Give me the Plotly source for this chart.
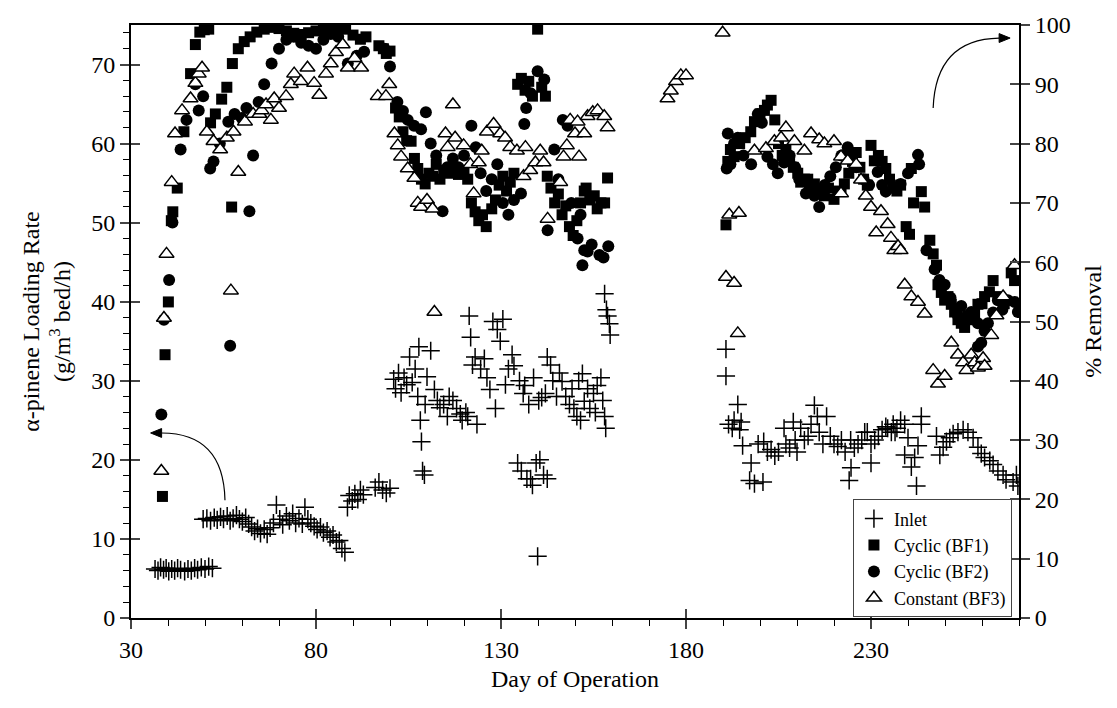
import plotly.graph_objects as go

# ---------------- data ----------------
inlet_day = [36.5,37.3,38.0,38.8,39.5,40.2,41.0,41.8,42.6,43.4,44.5,45.4,46.3,47.2,48.0,49.0,50.0,51.0,52.0,
    49.5,50.5,51.5,52.5,53.3,54.2,55.0,56.0,56.8,57.6,58.5,59.3,60.1,61.0,61.8,62.6,63.4,64.2,65.0,66.0,66.8,67.6,
    68.5,69.3,70.2,71.0,72.0,72.8,73.7,74.5,75.4,76.3,77.0,77.8,78.6,79.5,80.3,81.2,82.0,83.0,83.8,84.6,85.5,86.3,
    87.0,87.8,88.5,89.0,89.8,90.5,91.3,92.0,92.8,96.0,97.0,98.0,99.0,100.0,
    101.0,101.5,102.3,103.0,103.8,104.5,105.3,106.0,106.8,107.5,107.8,108.2,108.5,108.8,109.3,109.5,110.0,111.0,
    112.0,112.8,113.5,114.5,115.5,116.0,117.0,118.0,119.0,119.5,120.5,121.0,121.4,121.8,122.3,123.0,123.5,124.5,
    125.5,126.2,127.0,127.8,128.5,129.0,129.8,130.5,131.2,132.0,133.0,133.5,134.5,135.0,135.5,136.0,136.4,137.0,
    137.5,138.0,138.5,138.8,139.5,139.9,140.2,140.5,141.0,141.5,142.0,142.5,142.5,143.4,144.0,145.0,145.8,146.5,
    147.5,148.5,149.2,149.7,150.5,151.0,151.5,152.0,152.5,153.4,154.0,155.0,155.5,156.0,157.0,157.5,158.0,158.3,
    158.0,158.5,158.8,159.3,159.5,
    190.8,190.8,191.5,192.5,193.0,194.0,194.5,194.9,195.3,197.2,197.6,198.5,199.5,200.8,201.0,202.0,203.0,204.0,
    205.0,206.5,207.0,208.0,209.0,209.5,210.0,211.0,212.0,213.0,213.8,214.7,215.5,216.0,217.0,218.0,219.0,220.0,
    221.0,222.0,223.0,224.1,224.6,224.5,225.5,226.5,227.5,228.3,229.0,230.0,230.0,231.0,232.0,233.0,234.0,234.5,
    235.5,236.0,236.5,237.0,238.0,239.1,239.1,240.0,240.9,241.8,242.3,242.7,243.6,243.6,247.7,248.6,249.5,250.4,
    251.3,252.2,253.5,254.9,256.2,257.6,258.9,259.8,260.7,262.1,263.0,264.3,265.7,266.5,268.4,269.3,269.7]
inlet_val = [6.2,6.0,6.4,6.1,6.3,5.9,6.2,6.0,6.3,6.1,5.9,6.2,6.0,6.3,6.1,6.4,6.2,6.5,6.3,
    12.5,12.6,12.3,12.7,12.4,12.8,12.5,12.9,12.3,12.6,13.0,12.5,12.2,12.7,11.9,11.5,11.0,11.3,10.7,11.2,10.6,11.4,
    12.0,14.3,12.5,11.8,12.9,12.3,13.2,12.0,12.6,11.9,14.0,12.5,12.0,11.6,11.2,11.5,10.8,11.0,10.2,10.5,9.6,9.8,
    8.8,8.3,14.0,15.5,14.8,15.7,15.0,16.2,15.6,16.5,17.2,16.2,15.8,16.4,
    30.2,29.0,31.0,28.5,30.4,29.5,33.0,29.8,31.5,28.0,34.3,25.0,22.3,18.6,18.1,27.0,30.5,33.8,
    28.9,27.5,26.6,27.0,25.5,28.0,27.5,26.5,25.8,25.0,26.0,25.5,38.2,35.5,32.0,33.0,24.5,31.5,
    32.8,30.4,28.9,37.5,26.5,36.5,35.0,37.8,29.5,31.5,33.3,31.9,19.6,30.0,18.6,28.4,29.4,17.6,
    27.0,17.6,16.8,30.4,19.6,7.8,27.5,20.0,27.9,18.1,28.4,33.0,17.6,32.0,30.0,28.0,31.0,29.9,
    28.0,27.0,29.0,26.5,25.5,30.0,25.0,30.9,27.4,29.0,26.5,28.4,26.0,29.4,30.4,27.5,25.5,24.0,
    41.0,39.0,38.2,37.2,35.8,
    34.0,30.6,24.5,24.0,25.0,27.0,23.8,24.8,21.8,17.4,19.6,17.0,22.0,17.2,22.3,21.0,21.3,20.5,
    21.0,24.0,22.0,21.5,24.8,22.5,21.0,24.0,22.5,23.0,24.5,26.9,25.5,23.5,22.0,25.5,23.0,22.0,
    21.7,22.5,21.0,17.4,19.0,22.5,21.5,22.0,22.5,23.5,23.5,22.0,19.6,22.5,23.0,23.8,24.2,24.0,
    23.5,24.5,23.5,24.0,25.0,24.5,20.6,22.8,19.1,20.3,16.7,21.8,25.5,24.5,23.0,20.6,21.6,22.3,
    22.8,23.3,23.5,23.8,23.5,22.8,21.6,20.8,20.3,19.9,19.4,18.6,18.1,17.5,17.2,18.1,16.7]

bf1_day = [38.5,39.2,40.1,40.9,41.3,42.5,44.3,46.1,47.4,48.6,49.8,51.0,51.5,52.8,54.5,55.9,57.2,57.4,59.0,60.6,
    62.2,64.0,66.0,68.0,70.0,72.0,74.0,76.0,78.0,80.0,82.0,84.0,86.0,88.0,90.0,92.0,93.5,97.0,98.2,99.0,100.0,
    101.5,102.5,103.5,104.5,105.7,106.6,107.5,108.5,109.5,110.5,111.5,112.5,113.5,114.5,115.6,117.0,118.5,120.0,
    121.0,122.0,123.0,124.0,125.0,126.0,127.5,128.5,129.5,130.5,131.5,132.5,133.5,134.5,135.5,136.5,137.5,138.5,
    139.9,141.0,142.0,142.5,143.5,144.5,145.5,146.5,147.5,148.5,149.5,150.5,151.5,152.5,153.0,154.0,155.2,156.0,
    157.0,158.0,158.8,
    190.8,191.3,192.0,193.0,194.5,196.0,197.5,198.5,200.0,201.2,202.0,203.0,204.0,205.0,206.0,207.0,208.0,209.0,
    210.2,211.0,212.0,212.9,214.0,214.7,216.0,217.4,218.5,220.0,221.0,221.9,222.8,224.0,225.0,226.0,227.0,228.0,
    229.0,230.0,230.9,232.0,233.0,234.0,235.0,236.0,237.0,238.0,239.5,240.4,240.9,241.5,243.6,244.5,245.9,246.8,
    247.7,248.1,249.0,249.9,250.8,251.7,252.6,253.5,254.4,255.3,256.2,257.1,258.0,258.9,260.0,260.7,262.0,263.0,
    264.3,266.0,267.9,268.8]
bf1_rem = [20.5,44.4,53.3,67.0,68.5,72.5,82.0,91.8,96.7,98.8,99.2,99.3,83.5,85.0,87.5,89.5,69.3,93.5,96.0,97.2,
    98.0,98.8,99.3,99.6,99.4,99.0,98.6,98.4,98.7,99.0,99.2,99.4,99.6,99.3,98.3,97.6,98.0,96.5,96.0,95.2,95.6,
    86.0,84.5,82.0,80.5,80.4,77.5,75.8,74.0,73.2,75.0,74.5,76.5,74.0,75.5,75.0,76.0,74.8,75.5,
    74.0,70.0,68.5,67.0,68.0,66.0,69.0,70.5,73.0,74.5,72.0,73.5,75.0,90.0,91.0,89.0,90.5,88.0,
    99.3,89.5,88.0,74.5,72.5,70.0,71.5,68.0,69.5,66.0,64.5,67.0,70.0,72.0,72.5,70.5,71.2,69.0,
    70.0,70.0,74.2,
    66.3,77.0,79.0,77.8,80.0,81.0,82.0,83.7,85.0,85.6,86.5,87.3,84.0,80.0,78.0,79.0,77.5,76.0,
    75.0,73.5,74.0,74.0,72.5,73.2,72.0,71.2,72.5,70.6,72.0,71.9,73.2,75.0,77.0,78.5,76.0,74.0,
    73.0,79.7,77.1,78.0,77.0,75.8,74.0,72.5,72.0,73.0,66.0,64.7,75.8,70.0,71.9,69.3,63.7,61.4,
    59.5,56.2,54.9,53.6,54.2,52.9,51.6,50.3,49.7,49.0,51.0,50.3,51.5,52.9,53.0,54.2,55.0,56.9,
    54.2,53.0,58.2,56.9]

bf2_day = [38.2,38.9,40.3,41.2,43.4,45.0,47.4,48.3,49.5,51.4,52.3,54.0,56.3,56.8,58.0,59.9,61.2,62.0,63.0,64.5,
    66.0,68.0,70.0,72.0,74.0,76.0,78.0,80.0,82.0,84.0,86.0,88.6,91.0,93.0,98.5,100.0,102.0,103.5,104.8,106.5,
    108.4,109.7,111.0,112.5,114.2,115.5,117.0,118.5,120.0,122.0,123.2,124.5,126.0,127.5,129.0,130.5,132.0,133.5,
    135.4,136.3,136.8,138.0,139.9,141.7,142.6,144.4,145.5,146.7,148.0,149.0,150.7,151.5,152.0,152.5,153.4,154.5,
    156.6,157.7,159.0,
    191.0,191.3,192.0,193.0,194.0,195.5,197.6,199.4,200.5,202.0,203.5,204.8,206.5,208.0,209.5,210.6,212.4,213.5,
    214.7,216.0,217.5,219.0,220.5,222.0,223.7,224.1,226.0,228.0,229.5,231.8,233.0,234.0,236.3,238.0,240.0,242.7,
    243.0,245.0,247.2,248.5,249.9,251.5,253.5,254.4,255.5,257.1,258.9,258.9,259.8,260.7,261.6,263.0,264.3,265.5,
    267.0,268.8,269.7]
bf2_rem = [34.3,50.3,57.0,66.7,79.0,84.0,90.0,85.6,88.0,75.8,77.0,80.0,83.7,45.9,85.0,84.3,86.0,68.6,78.0,87.0,
    90.0,93.5,96.0,97.5,98.0,97.0,96.5,96.0,97.5,98.5,98.0,93.5,94.8,95.5,96.0,93.0,87.0,85.5,84.0,83.0,
    82.4,85.3,80.0,78.0,68.6,76.0,77.5,76.0,78.0,83.0,79.4,75.0,72.0,74.0,76.5,70.0,68.0,70.5,
    71.6,83.3,86.0,88.5,92.2,90.8,65.4,79.0,74.0,84.0,83.0,70.0,64.0,68.0,59.5,62.0,61.8,63.0,
    61.2,60.8,62.7,
    75.8,81.7,76.5,80.0,81.0,78.0,76.5,85.0,83.5,77.8,76.5,75.0,76.8,78.0,76.0,74.0,71.6,72.5,
    71.2,69.3,73.0,74.5,76.0,78.0,79.4,77.8,76.0,74.0,73.0,75.2,73.0,71.9,72.5,73.2,75.0,78.1,
    76.5,62.0,58.8,57.0,56.2,54.0,51.0,52.6,50.5,51.6,49.7,45.8,46.4,48.4,49.7,51.5,53.6,52.0,
    53.6,53.3,51.6]

bf3_day = [38.2,38.9,39.6,41.0,41.9,43.8,46.1,47.4,48.3,49.2,50.5,52.3,54.1,55.9,57.0,57.7,59.0,60.8,63.0,64.7,
    65.3,66.5,67.8,68.7,70.0,71.9,73.2,74.1,75.9,77.7,79.5,80.9,82.7,84.0,85.4,87.2,88.6,90.4,92.2,96.7,98.9,
    99.8,101.2,102.1,103.0,104.8,106.6,107.5,108.4,110.0,111.5,112.0,115.0,115.6,117.0,117.6,119.9,121.7,122.6,
    124.0,124.8,126.2,128.0,129.8,131.1,132.5,134.3,136.1,136.6,137.9,139.3,140.6,141.5,142.6,146.0,146.9,147.8,
    148.7,150.0,150.7,151.1,152.5,153.4,154.8,156.1,157.9,158.8,
    175.0,175.9,177.3,178.6,180.0,189.9,190.8,191.7,193.0,194.0,194.3,198.5,201.6,203.9,205.7,207.0,209.3,212.0,
    213.8,216.0,217.4,220.0,221.9,221.9,223.7,226.0,227.3,228.6,230.0,231.4,232.7,234.5,235.4,236.3,237.3,238.0,
    239.1,240.9,242.7,244.5,246.8,248.1,249.9,251.7,253.5,254.9,255.8,257.1,258.0,258.9,260.3,260.7,262.5,263.9,
    265.7,268.8]
bf3_rem = [24.8,50.6,61.4,73.5,81.7,85.6,87.6,90.2,91.8,92.8,82.0,80.4,79.0,81.0,55.2,82.0,75.2,83.7,85.0,85.0,
    85.6,86.6,84.0,87.6,86.0,88.0,90.0,91.8,90.5,92.8,90.2,88.2,91.8,93.5,95.4,96.7,92.8,94.4,92.8,88.0,88.0,
    90.0,81.7,79.7,77.8,75.8,74.2,70.0,69.3,70.5,69.0,51.6,81.7,79.4,86.6,81.0,79.7,76.5,71.6,
    76.8,78.8,82.0,83.3,81.7,81.0,79.4,78.8,74.5,79.4,75.5,76.8,78.8,76.8,67.3,73.5,77.8,79.7,
    84.0,81.7,83.7,77.8,81.7,84.6,85.3,85.6,84.6,82.7,
    87.6,88.9,90.5,91.5,91.5,98.7,57.5,68.0,56.5,48.0,68.3,78.8,79.2,80.4,81.0,82.7,80.4,78.8,
    81.7,80.7,80.0,80.4,77.8,71.6,77.1,76.5,73.9,71.2,69.3,65.0,68.6,66.4,64.1,62.0,62.7,62.0,
    56.2,54.2,53.3,51.3,41.8,39.5,40.8,46.4,44.4,43.1,41.8,44.4,43.1,42.2,43.8,42.5,47.7,51.0,
    54.2,59.5]

x_ticks = [30, 80, 130, 180, 230]
X_RANGE = [30, 270]
YL_RANGE = [0, 75]
YR_RANGE = [0, 100]
FONT = "Liberation Serif"
W, H = 1117, 708
M = dict(l=131, r=98, t=17, b=90)

# pixel -> data helpers for arrowhead sizing
px_x = (X_RANGE[1] - X_RANGE[0]) / (W - M["l"] - M["r"])
px_yl = (YL_RANGE[1] - YL_RANGE[0]) / (H - M["t"] - M["b"])
px_yr = (YR_RANGE[1] - YR_RANGE[0]) / (H - M["t"] - M["b"])

fig = go.Figure()
fig.add_trace(go.Scatter(x=inlet_day, y=inlet_val, mode="markers", name="Inlet", yaxis="y",
    marker=dict(symbol="cross-thin", size=13, color="black", line=dict(color="black", width=1.5))))
fig.add_trace(go.Scatter(x=bf1_day, y=bf1_rem, mode="markers", name="Cyclic (BF1)", yaxis="y2",
    marker=dict(symbol="square", size=11, color="black", line=dict(width=0))))
fig.add_trace(go.Scatter(x=bf2_day, y=bf2_rem, mode="markers", name="Cyclic (BF2)", yaxis="y2",
    marker=dict(symbol="circle", size=12, color="black", line=dict(width=0))))
fig.add_trace(go.Scatter(x=bf3_day, y=bf3_rem, mode="markers", name="Constant (BF3)", yaxis="y2",
    marker=dict(symbol="triangle-up", size=13, color="white", line=dict(color="black", width=1.5))))

# curved arrow 1 (points to the left axis)
a1_base = (55.4, 14.9)
a1_ctrl = (55.0, 23.4)
a1_tip = (35.3, 23.4)
hl, hw = 11, 4.5  # head length / half width in px
fig.add_shape(type="path", xref="x", yref="y",
              path=f"M {a1_base[0]},{a1_base[1]} Q {a1_ctrl[0]},{a1_ctrl[1]} {a1_tip[0] + hl*px_x},{a1_tip[1]}",
              line=dict(color="black", width=1.2))
fig.add_shape(type="path", xref="x", yref="y", fillcolor="black", line=dict(color="black", width=1),
              path=(f"M {a1_tip[0]},{a1_tip[1]} L {a1_tip[0] + hl*px_x},{a1_tip[1] + hw*px_yl} "
                    f"L {a1_tip[0] + hl*px_x},{a1_tip[1] - hw*px_yl} Z"))
# curved arrow 2 (points to the right axis)
a2_base = (246.8, 86.0)
a2_ctrl = (247.5, 97.6)
a2_tip = (267.6, 97.8)
fig.add_shape(type="path", xref="x", yref="y2",
              path=f"M {a2_base[0]},{a2_base[1]} Q {a2_ctrl[0]},{a2_ctrl[1]} {a2_tip[0] - hl*px_x},{a2_tip[1]}",
              line=dict(color="black", width=1.2))
fig.add_shape(type="path", xref="x", yref="y2", fillcolor="black", line=dict(color="black", width=1),
              path=(f"M {a2_tip[0]},{a2_tip[1]} L {a2_tip[0] - hl*px_x},{a2_tip[1] + hw*px_yr} "
                    f"L {a2_tip[0] - hl*px_x},{a2_tip[1] - hw*px_yr} Z"))

axis_common = dict(showgrid=False, zeroline=False)
fig.update_layout(
    width=W, height=H,
    margin=M,
    paper_bgcolor="white", plot_bgcolor="white",
    font=dict(family=FONT, size=24, color="black"),
    showlegend=True,
    legend=dict(x=0.813, y=0.2, xanchor="left", yanchor="top",
                bgcolor="white", bordercolor="#444", borderwidth=1,
                font=dict(family=FONT, size=18, color="black"), tracegroupgap=0, itemwidth=30),
    xaxis=dict(range=X_RANGE, tickvals=x_ticks, ticks="outside", ticklen=9, tickwidth=1.5,
               showline=True, linecolor="black", linewidth=2, mirror=True,
               minor=dict(dtick=10, tick0=30, ticks="outside", ticklen=6, tickwidth=1.2, tickcolor="black"),
               title=dict(text="Day of Operation", font=dict(size=24), standoff=8),
               tickfont=dict(size=24), **axis_common),
    xaxis2=dict(range=X_RANGE, tickvals=x_ticks, ticks="inside", ticklen=9, tickwidth=1.5,
                overlaying="x", anchor="y", side="bottom", showticklabels=False, showline=False,
                **axis_common),
    yaxis=dict(range=YL_RANGE, dtick=10, tick0=0, ticks="outside", ticklen=9, tickwidth=1.5,
               showline=True, linecolor="black", linewidth=2, mirror=True,
               minor=dict(dtick=2, ticks="outside", ticklen=6, tickwidth=1.2, tickcolor="black"),
               title=dict(text="α-pinene Loading Rate<br>(g/m<sup>3</sup> bed/h)", font=dict(size=24), standoff=14),
               tickfont=dict(size=24), **axis_common),
    yaxis2=dict(range=YR_RANGE, dtick=10, tick0=0, ticks="outside", ticklen=9, tickwidth=1.5,
                overlaying="y", side="right", showline=True, linecolor="black", linewidth=2,
                title=dict(text="% Removal", font=dict(size=24), standoff=14),
                tickfont=dict(size=24), **axis_common),
    yaxis3=dict(range=YL_RANGE, dtick=10, tick0=0, ticks="inside", ticklen=9, tickwidth=1.5,
                overlaying="y", side="left", showticklabels=False, showline=False, **axis_common),
    yaxis4=dict(range=YR_RANGE, dtick=10, tick0=0, ticks="inside", ticklen=9, tickwidth=1.5,
                overlaying="y", side="right", showticklabels=False, showline=False, **axis_common),
)
# invisible helper traces so the overlay tick axes are drawn
fig.add_trace(go.Scatter(x=[None], y=[None], xaxis="x2", yaxis="y", showlegend=False, hoverinfo="skip"))
fig.add_trace(go.Scatter(x=[None], y=[None], xaxis="x", yaxis="y3", showlegend=False, hoverinfo="skip"))
fig.add_trace(go.Scatter(x=[None], y=[None], xaxis="x", yaxis="y4", showlegend=False, hoverinfo="skip"))

fig.write_html("out.html")
